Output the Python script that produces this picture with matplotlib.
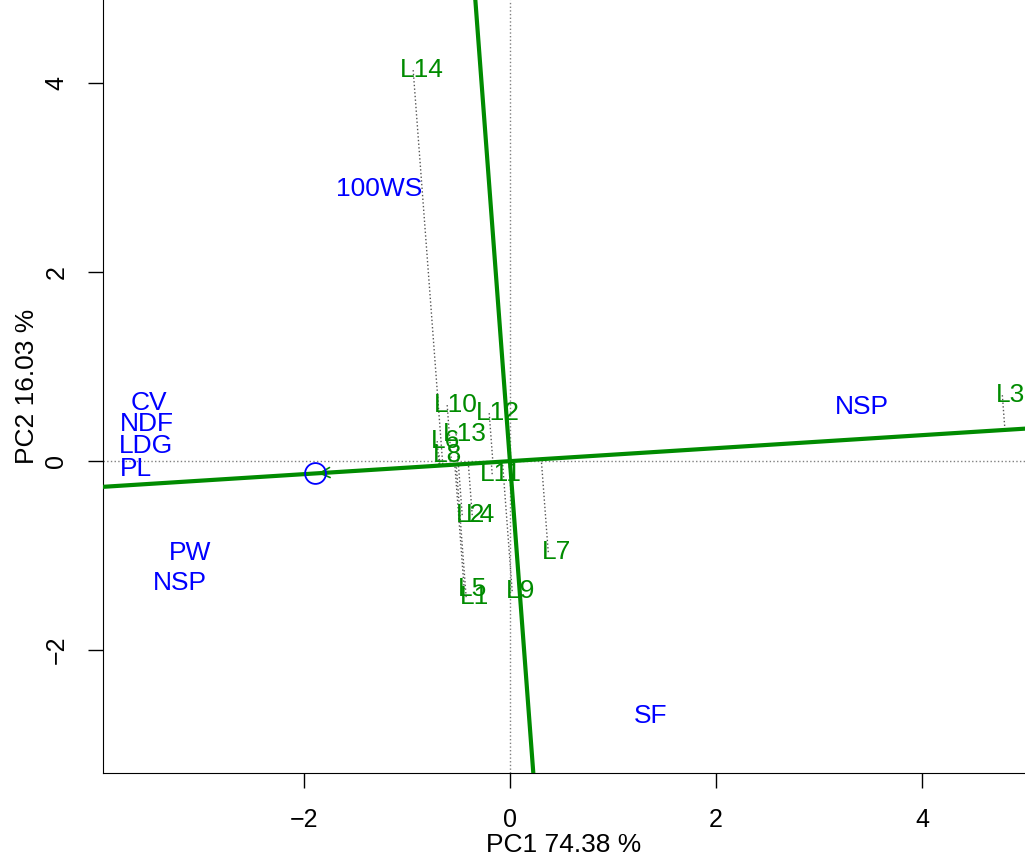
import matplotlib
matplotlib.use("Agg")
import matplotlib.pyplot as plt
import numpy as np

plt.rcParams['font.family'] = ['Liberation Sans', 'DejaVu Sans']

# genotype scores (PC1, PC2)
gen_names = ['L1', 'L2', 'L3', 'L4', 'L5', 'L6', 'L7', 'L8', 'L9', 'L10', 'L11', 'L12', 'L13', 'L14']
gen_pc1 = [-0.425, -0.463, 4.78, -0.366, -0.444, -0.706, 0.372, -0.687, 0.022, -0.609, -0.172, -0.201, -0.522, -0.939]
gen_pc2 = [-1.439, -0.571, 0.698, -0.571, -1.354, 0.212, -0.963, 0.063, -1.376, 0.593, -0.138, 0.508, 0.286, 4.138]

# trait labels (PC1, PC2)
env_names = ['100WS', 'CV', 'NDF', 'LDG', 'PL', 'PW', 'NSP', 'NSP', 'SF']
env_pc1 = [-1.272, -3.505, -3.524, -3.534, -3.631, -3.107, -3.204, 3.417, 1.369]
env_pc2 = [2.878, 0.614, 0.392, 0.159, -0.085, -0.974, -1.291, 0.571, -2.698]

# average environment coordinate
mean_env = (-1.89, -0.13)

xlim = (-3.95, 5.0)
ylim = (-3.30, 4.88)

fig = plt.figure(figsize=(10.25, 8.59), dpi=100)
ax = fig.add_axes([103 / 1025, 86 / 859, 922 / 1025, 773 / 859])

green = '#008B00'

# reference lines through origin
ax.axhline(0, color='grey', ls=':', lw=1)
ax.axvline(0, color='grey', ls=':', lw=1)

# average environment axis and its ordinate
d = np.array(mean_env) / np.hypot(*mean_env)
t = np.array([-20, 20])
ax.plot(t * d[0], t * d[1], color=green, lw=3, zorder=3)
ax.plot(-t * d[1], t * d[0], color=green, lw=3, zorder=3)

# projections of genotypes onto the AEC abscissa
P = np.column_stack([gen_pc1, gen_pc2])
proj = (P @ d)[:, None] * d
for (x0, y0), (x1, y1) in zip(P, proj):
    ax.plot([x0, x1], [y0, y1], color='#555555', ls=':', lw=1, zorder=2)

# mean environment marker and arrow
ax.annotate('', xy=mean_env, xytext=(0, 0),
            arrowprops=dict(arrowstyle='->', color=green, lw=1.2, mutation_scale=18), zorder=4)
ax.plot(*mean_env, 'o', ms=15, mfc='none', mec='blue', mew=1.3, zorder=5)

for n, x, y in zip(gen_names, gen_pc1, gen_pc2):
    ax.annotate(n, (x, y), xytext=(6, 0), textcoords='offset points',
                ha='center', va='center', color=green, fontsize=19, zorder=6)

for n, x, y in zip(env_names, env_pc1, env_pc2):
    ax.text(x, y, n, ha='center', va='center', color='blue', fontsize=19, zorder=6)

ax.set_xlim(*xlim)
ax.set_ylim(*ylim)
ax.set_xticks([-2, 0, 2, 4])
ax.set_yticks([-2, 0, 2, 4])
ax.set_xticklabels(['\u22122', '0', '2', '4'])
ax.set_yticklabels(['\u22122', '0', '2', '4'], rotation=90, va='center')
ax.tick_params(length=11, width=1, labelsize=18, pad=14)
ax.spines['top'].set_visible(False)
ax.spines['right'].set_visible(False)
ax.set_xlabel('PC1 74.38 %', fontsize=19, labelpad=1)
ax.set_ylabel('PC2 16.03 %', fontsize=19, labelpad=4)

fig.savefig('out.png', dpi=100)
